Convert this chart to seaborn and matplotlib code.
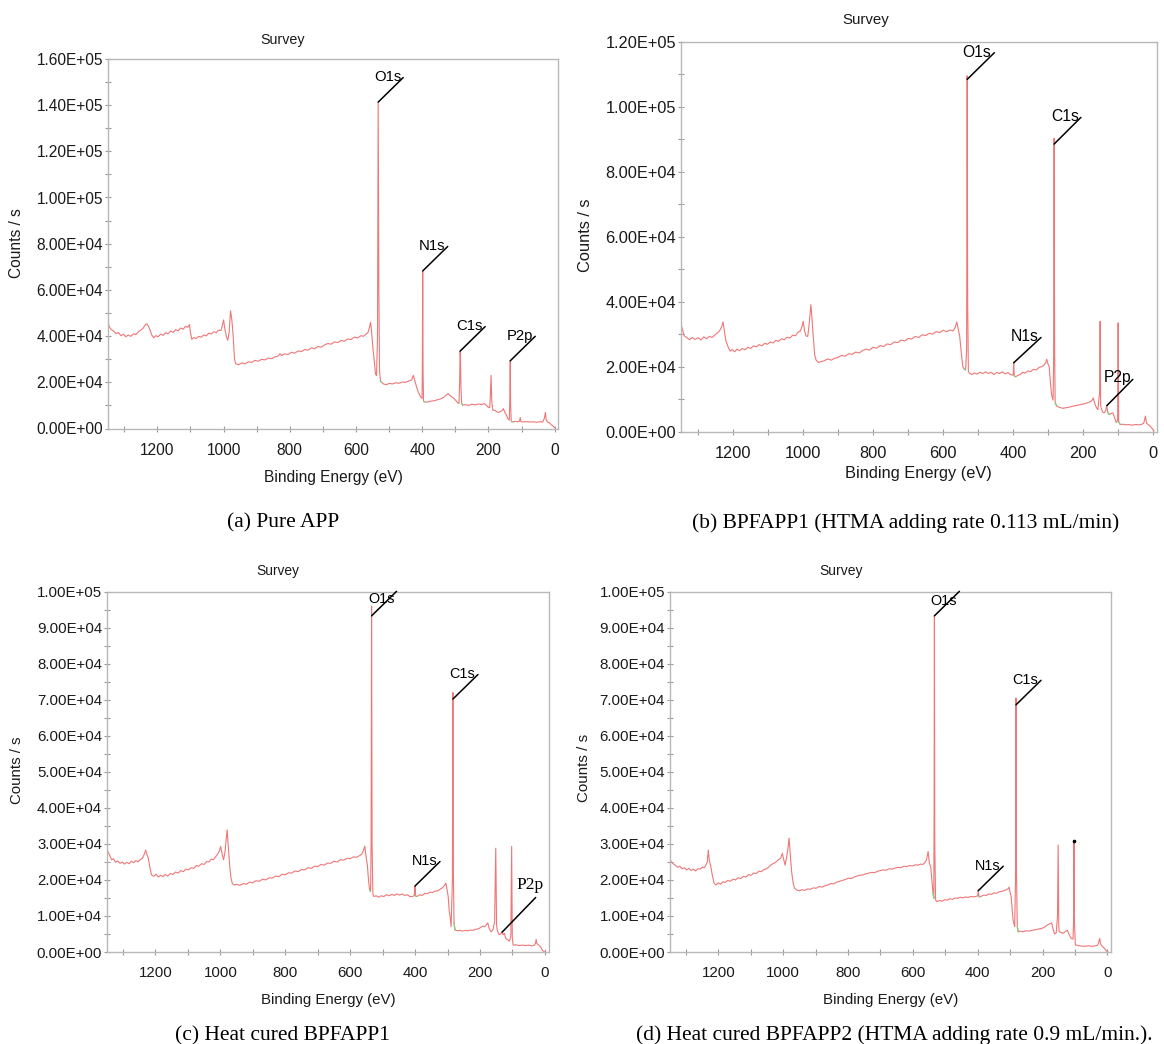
import matplotlib
matplotlib.use("Agg")
import matplotlib.pyplot as plt
import pandas as pd
import seaborn as sns
from matplotlib.ticker import MultipleLocator, FuncFormatter

# XPS survey spectra: (binding energy eV, intensity in 10^3 counts/s)
survey_a = [
    (1350, 46.5), (1345, 44.0), (1340, 43.0), (1332, 42.2), (1325, 41.0), (1318, 41.6), (1310, 40.2),
    (1302, 40.8), (1295, 39.7), (1288, 40.5), (1280, 39.9), (1272, 41.0), (1265, 40.6), (1258, 41.8),
    (1250, 42.6), (1243, 43.4), (1237, 44.8), (1232, 45.4), (1227, 44.3), (1222, 42.6), (1217, 40.5),
    (1211, 39.3), (1205, 40.2), (1198, 39.7), (1190, 40.9), (1183, 40.3), (1175, 41.5), (1168, 41.0),
    (1160, 42.2), (1152, 41.6), (1145, 42.8), (1137, 42.3), (1130, 43.5), (1122, 43.0), (1115, 44.2),
    (1108, 43.8), (1103, 45.0), (1100, 41.5), (1096, 38.6), (1090, 39.4), (1083, 38.9), (1075, 39.9),
    (1068, 39.5), (1060, 40.5), (1052, 40.1), (1045, 41.3), (1037, 40.9), (1030, 41.9), (1022, 41.5),
    (1015, 42.6), (1008, 42.4), (1003, 45.0), (1000, 47.0), (996, 43.0), (991, 39.5), (987, 38.2),
    (983, 42.0), (979, 51.0), (975, 47.0), (971, 40.0), (967, 30.0), (963, 28.0), (955, 27.6),
    (945, 28.4), (935, 28.0), (925, 28.9), (915, 28.6), (905, 29.5), (895, 29.1), (885, 30.0),
    (875, 29.7), (865, 30.5), (855, 30.2), (845, 31.0), (835, 31.4), (830, 32.4), (825, 31.6),
    (815, 32.3), (805, 32.0), (795, 33.0), (785, 32.6), (775, 33.6), (765, 33.3), (755, 34.2),
    (745, 33.9), (735, 34.9), (725, 34.5), (715, 35.5), (705, 35.2), (695, 36.2), (685, 36.8),
    (675, 36.5), (665, 37.5), (655, 37.2), (645, 38.1), (635, 37.8), (625, 38.8), (615, 38.5),
    (605, 39.6), (595, 39.2), (585, 40.2), (578, 39.9), (570, 40.8), (564, 41.5), (559, 44.0),
    (556, 46.0), (553, 42.0), (549, 35.0), (545, 29.0), (541, 23.5), (538, 23.0), (535, 40.0),
    (533, 141.3), (531, 60.0), (529, 25.0), (526, 20.5), (522, 19.9), (516, 19.2), (508, 19.0),
    (500, 19.5), (490, 19.3), (480, 19.8), (470, 19.6), (460, 20.1), (450, 20.0), (440, 20.6),
    (432, 21.0), (427, 23.0), (422, 20.5), (417, 18.0), (412, 15.8), (405, 13.7), (400.5, 13.0),
    (399.5, 30.0), (398.5, 68.2), (397.5, 25.0), (396, 11.8), (392, 11.5), (385, 11.4), (375, 11.8),
    (365, 12.0), (355, 12.4), (345, 12.8), (336, 13.4), (328, 14.4), (321.6, 15.1), (316, 14.3),
    (310, 13.6), (304, 13.0), (298, 12.0), (293, 11.2), (289, 10.8), (287, 20.0), (285.5, 33.5),
    (284.5, 31.0), (283, 18.0), (281, 11.0), (278, 10.1), (270, 10.3), (260, 10.0), (250, 10.5),
    (240, 10.2), (230, 10.6), (220, 10.4), (212, 10.8), (206, 10.0), (200, 9.2), (196, 9.0),
    (194, 15.0), (192, 23.0), (190, 12.0), (187, 8.0), (180, 7.8), (172, 7.0), (165, 7.2),
    (160, 7.6), (155, 8.6), (151, 7.2), (146, 5.8), (141, 4.2), (137, 3.6), (135.5, 12.0),
    (134.2, 29.3), (133, 10.0), (131, 3.0), (125, 2.9), (118, 3.1), (112, 2.9), (106, 3.2),
    (104, 4.8), (102, 3.0), (95, 2.8), (85, 3.0), (75, 2.8), (65, 2.9), (55, 2.7), (45, 2.9),
    (36, 2.8), (31, 4.5), (28, 7.0), (26, 4.0), (22, 2.8), (16, 2.5), (10, 1.6), (6, 1.2),
    (2, 0.6), (-2, 0.2),
]

survey_b = [
    (1349, 33.0), (1345, 31.5), (1340, 29.5), (1333, 29.0), (1325, 28.3), (1317, 29.0), (1309, 28.4),
    (1300, 28.9), (1292, 28.2), (1284, 29.2), (1276, 28.6), (1268, 29.3), (1260, 29.0), (1252, 29.8),
    (1245, 30.4), (1238, 31.2), (1233, 32.3), (1229, 33.8), (1225, 31.0), (1221, 28.0), (1215, 26.2),
    (1209, 24.8), (1203, 25.3), (1196, 24.6), (1189, 25.4), (1182, 24.9), (1174, 25.6), (1166, 25.2),
    (1158, 26.0), (1150, 25.6), (1142, 26.4), (1134, 26.1), (1126, 26.8), (1118, 26.4), (1110, 27.2),
    (1102, 26.9), (1094, 27.6), (1086, 27.3), (1078, 28.1), (1070, 27.8), (1062, 28.6), (1054, 28.3),
    (1046, 29.1), (1038, 28.8), (1030, 29.7), (1022, 29.5), (1015, 30.6), (1008, 31.0), (1003, 32.5),
    (1000, 34.0), (996, 31.0), (992, 29.5), (987, 29.3), (983, 33.0), (978, 39.1), (975, 35.0),
    (971, 28.9), (967, 23.5), (963, 22.0), (956, 21.3), (949, 21.6), (940, 21.8), (930, 22.4),
    (920, 22.0), (910, 22.6), (900, 22.9), (890, 23.5), (880, 23.2), (870, 24.0), (860, 23.8),
    (850, 24.5), (840, 24.2), (830, 25.0), (820, 25.4), (810, 25.1), (800, 26.0), (790, 25.7),
    (780, 26.5), (770, 26.2), (760, 27.0), (750, 26.8), (740, 27.6), (730, 27.4), (720, 28.2),
    (710, 27.9), (700, 28.7), (690, 28.5), (680, 29.3), (670, 29.0), (660, 29.8), (650, 29.6),
    (640, 30.3), (630, 30.0), (620, 30.8), (610, 30.5), (600, 31.2), (590, 30.8), (580, 31.3),
    (572, 31.0), (566, 32.0), (561, 33.8), (557, 31.5), (553, 29.6), (548, 24.0), (544, 20.0),
    (540, 19.3), (536, 19.0), (533, 25.0), (531.5, 109.5), (530, 40.0), (528, 18.5), (524, 17.9),
    (518, 17.6), (511, 18.1), (503, 17.7), (495, 18.3), (487, 17.9), (479, 18.4), (471, 17.9),
    (463, 18.3), (455, 17.6), (447, 18.2), (439, 17.9), (431, 18.4), (423, 17.8), (415, 18.2),
    (408, 17.6), (401, 17.4), (399.5, 18.0), (398.5, 21.2), (397, 17.2), (393, 16.9), (387, 17.3),
    (380, 17.6), (373, 18.3), (366, 18.0), (358, 18.7), (350, 18.5), (342, 19.2), (334, 19.0),
    (326, 19.8), (318, 20.0), (312, 20.5), (307, 21.2), (304, 22.3), (301, 21.0), (297, 20.0),
    (293, 14.5), (290, 11.3), (286, 9.7), (284.5, 20.0), (283, 90.3), (281.5, 25.0), (280, 9.0),
    (276, 7.9), (268, 7.5), (258, 7.2), (248, 7.4), (238, 7.6), (228, 7.9), (218, 8.1), (210, 8.3),
    (200, 8.5), (190, 8.8), (180, 9.2), (175, 9.6), (171, 10.4), (166, 8.4), (162, 7.4), (158, 6.8),
    (153, 12.0), (151.5, 34.0), (150, 8.0), (147, 6.8), (144, 6.0), (140, 5.8), (136, 6.4),
    (132.5, 8.0), (130, 6.0), (126, 5.3), (120, 5.6), (115, 5.8), (110, 4.2), (105, 2.8),
    (101.5, 3.5), (100, 33.5), (98.5, 3.0), (94, 2.2), (86, 2.3), (78, 2.1), (70, 2.2), (60, 2.0),
    (50, 2.2), (40, 2.1), (32, 2.3), (27, 2.6), (22, 4.8), (19, 2.6), (14, 2.2), (10, 1.8),
    (6, 1.4), (3, 1.0), (-2, 0.3),
]

survey_c = [
    (1349, 28.5), (1345, 27.6), (1341, 26.9), (1335, 25.6), (1329, 25.9), (1323, 24.9), (1316, 25.3),
    (1309, 24.6), (1302, 25.0), (1295, 24.4), (1288, 24.9), (1281, 24.5), (1274, 25.2), (1267, 24.8),
    (1260, 25.4), (1253, 25.0), (1246, 25.7), (1240, 26.0), (1236, 26.8), (1233, 27.4), (1230, 28.3),
    (1226, 27.0), (1222, 26.1), (1217, 23.5), (1212, 21.4), (1205, 21.0), (1198, 21.6), (1191, 20.8),
    (1184, 21.3), (1177, 20.9), (1170, 21.5), (1162, 21.1), (1154, 21.8), (1146, 21.5), (1138, 22.2),
    (1130, 21.9), (1122, 22.6), (1114, 22.3), (1106, 23.0), (1098, 22.8), (1090, 23.4), (1082, 23.2),
    (1074, 24.0), (1066, 23.8), (1058, 24.5), (1050, 24.3), (1042, 25.1), (1035, 25.0), (1028, 25.8),
    (1021, 25.6), (1014, 26.5), (1008, 27.2), (1003, 28.0), (999, 29.3), (994, 27.0), (990, 25.6),
    (986, 27.5), (982, 31.0), (979, 33.9), (975, 29.0), (971, 23.7), (967, 20.5), (963, 19.0),
    (957, 18.6), (950, 18.8), (940, 18.5), (930, 19.0), (920, 18.8), (910, 19.4), (900, 19.2),
    (890, 19.8), (880, 19.6), (870, 20.2), (860, 20.0), (850, 20.6), (840, 20.5), (830, 21.1),
    (820, 20.9), (810, 21.6), (800, 21.4), (790, 22.0), (780, 21.9), (770, 22.5), (760, 22.3),
    (750, 22.9), (740, 22.8), (730, 23.4), (720, 23.2), (710, 23.8), (700, 23.7), (690, 24.3),
    (680, 24.1), (670, 24.7), (660, 24.6), (650, 25.2), (640, 25.0), (630, 25.6), (620, 25.5),
    (610, 26.0), (600, 25.9), (590, 26.4), (580, 26.3), (570, 26.8), (564, 27.2), (559, 28.2),
    (555, 29.4), (551, 26.5), (547, 24.1), (543, 19.5), (540, 17.2), (537, 16.8), (535.5, 30.0),
    (534, 96.0), (532.5, 30.0), (530, 16.0), (527, 15.4), (520, 15.6), (512, 15.2), (504, 15.6),
    (496, 15.4), (488, 15.9), (480, 15.6), (472, 16.0), (464, 15.7), (456, 16.1), (448, 15.8),
    (440, 16.1), (432, 15.7), (424, 15.9), (416, 15.4), (409, 15.4), (403, 15.6), (401.5, 16.5),
    (400.3, 18.3), (399, 15.6), (394, 15.4), (386, 15.9), (378, 15.7), (370, 16.3), (362, 16.2),
    (354, 16.6), (346, 16.5), (338, 16.9), (330, 17.0), (323, 17.4), (316, 17.8), (310, 18.4),
    (305, 19.1), (302, 17.5), (298, 15.4), (295, 11.5), (292, 9.8), (289, 7.0), (285, 20.0),
    (283.5, 72.0), (282, 22.0), (280, 8.0), (277, 6.1), (270, 5.9), (262, 6.0), (254, 5.8),
    (246, 6.0), (238, 5.9), (230, 6.1), (222, 6.0), (214, 6.3), (206, 6.4), (198, 6.8), (192, 7.2),
    (186, 7.0), (180, 7.6), (176, 8.1), (172, 6.6), (166, 5.6), (160, 6.2), (155, 8.5),
    (151.5, 28.8), (149, 7.5), (147, 6.1), (143, 5.0), (139, 4.8), (135, 5.2), (132, 5.5),
    (129, 4.8), (125, 5.2), (121, 3.8), (115, 3.4), (109, 3.0), (105, 4.5), (102.5, 29.3),
    (100.5, 4.0), (98, 1.9), (90, 2.0), (80, 1.8), (70, 1.9), (60, 1.8), (50, 1.9), (40, 1.7),
    (32, 1.9), (29, 2.5), (27, 3.5), (25, 2.4), (19, 1.9), (13, 1.4), (8, 0.5), (3, 0.1), (-2, 0.0),
]

survey_d = [
    (1349, 25.8), (1345, 25.0), (1340, 24.6), (1333, 24.1), (1326, 23.5), (1319, 23.8), (1312, 23.1),
    (1305, 23.4), (1298, 22.8), (1291, 23.2), (1284, 22.6), (1277, 23.0), (1270, 22.5), (1263, 23.1),
    (1256, 23.0), (1249, 23.6), (1243, 23.4), (1238, 24.2), (1234, 25.0), (1231, 28.3), (1228, 25.5),
    (1224, 24.1), (1219, 21.5), (1213, 19.1), (1207, 18.6), (1200, 19.2), (1193, 18.8), (1186, 19.5),
    (1179, 19.3), (1171, 19.9), (1163, 19.6), (1155, 20.2), (1147, 20.0), (1139, 20.6), (1131, 20.4),
    (1123, 21.0), (1115, 20.8), (1107, 21.5), (1099, 21.3), (1091, 21.9), (1083, 21.8), (1075, 22.4),
    (1067, 22.3), (1059, 22.9), (1051, 23.1), (1043, 23.7), (1036, 24.3), (1029, 24.6), (1022, 25.0),
    (1015, 25.6), (1008, 26.0), (1002.5, 27.4), (998, 25.5), (994, 24.1), (989, 26.5), (985, 29.0),
    (982, 31.6), (978, 27.0), (974, 22.3), (969, 19.0), (965, 17.7), (958, 17.2), (950, 17.0),
    (942, 17.3), (934, 17.1), (925, 17.5), (916, 17.4), (907, 17.8), (898, 17.7), (889, 18.2),
    (880, 18.0), (871, 18.4), (862, 18.6), (853, 19.0), (844, 18.9), (835, 19.4), (826, 19.6),
    (817, 19.9), (808, 20.1), (799, 20.5), (790, 20.4), (781, 20.8), (772, 21.1), (763, 21.3),
    (754, 21.4), (745, 21.7), (736, 21.9), (727, 22.1), (718, 22.0), (709, 22.4), (700, 22.6),
    (691, 22.8), (682, 22.7), (673, 23.1), (664, 23.0), (655, 23.3), (646, 23.5), (637, 23.4),
    (628, 23.8), (619, 23.7), (610, 24.0), (601, 23.9), (592, 24.2), (584, 24.1), (576, 24.4),
    (569, 24.3), (563, 24.8), (558, 25.6), (553, 27.9), (549, 24.5), (545, 23.7), (541, 19.5),
    (538, 16.5), (535.5, 14.9), (534.5, 40.0), (533.6, 93.5), (532.5, 30.0), (530, 14.5),
    (526, 14.0), (518, 14.3), (510, 14.1), (502, 14.5), (494, 14.4), (486, 14.8), (478, 14.6),
    (470, 15.0), (462, 14.9), (454, 15.2), (446, 15.0), (438, 15.3), (430, 15.1), (422, 15.4),
    (414, 15.3), (406, 15.4), (400, 15.6), (398.5, 17.0), (396, 15.3), (390, 15.4), (382, 15.8),
    (374, 15.7), (366, 16.1), (358, 16.0), (350, 16.4), (342, 16.3), (334, 16.7), (326, 16.8),
    (318, 17.1), (311, 17.3), (306, 17.6), (303, 18.0), (300, 16.5), (297, 15.4), (294, 12.0),
    (291, 8.9), (286, 7.0), (283.5, 20.0), (282, 70.5), (280.5, 22.0), (278, 7.0), (275, 5.6),
    (268, 5.8), (260, 5.6), (252, 5.9), (244, 5.8), (236, 5.9), (228, 6.1), (220, 6.2), (212, 6.4),
    (204, 6.5), (196, 6.8), (190, 7.2), (183, 7.6), (176, 7.9), (172, 8.1), (168, 6.5), (163, 5.0),
    (158, 5.3), (154, 10.0), (152, 29.7), (150, 7.0), (148.6, 5.6), (143, 5.4), (137, 5.2),
    (130, 5.6), (124, 6.1), (119, 5.0), (112, 3.8), (106, 3.6), (104, 10.0), (103, 30.9),
    (101.5, 8.0), (99, 1.9), (95, 1.9), (85, 1.7), (75, 1.6), (67, 1.6), (58, 1.7), (48, 1.6),
    (38, 1.7), (30, 1.9), (26, 3.0), (24, 3.8), (21, 2.2), (16, 1.6), (10, 1.1), (5, 0.5),
    (0, 0.1), (-2, 0.0),
]

# background-fit windows drawn in green (high, low binding energy)
bg_windows_a = [(528, 521), (397, 391), (281.5, 277), (132.9, 124)]
bg_windows_b = [(540, 535.5), (397.5, 392), (281, 275), (131, 125), (99, 93)]
bg_windows_c = [(541, 536.5), (399.5, 393), (280.5, 276)]
bg_windows_d = [(539, 535), (397, 389), (279, 274)]

# peak labels: name, energy, intensity (10^3 counts/s) where the leader line starts
peaks_a = [("O1s", 533, 141.3), ("N1s", 398.5, 68.2), ("C1s", 285.5, 33.5), ("P2p", 134.2, 29.3)]
peaks_b = [("O1s", 531.5, 108.4), ("C1s", 283, 88.5), ("N1s", 398.5, 21.2), ("P2p", 132.5, 8.0)]
peaks_c = [("O1s", 534, 93.3), ("C1s", 283.5, 70.2), ("N1s", 400.3, 18.3), ("P2p", 132, 5.5)]
peaks_d = [("O1s", 533.6, 93.3), ("C1s", 282, 68.6), ("N1s", 398.5, 17.0)]

captions = [
    "(a) Pure APP",
    "(b) BPFAPP1 (HTMA adding rate 0.113 mL/min)",
    "(c) Heat cured BPFAPP1",
    "(d) Heat cured BPFAPP2 (HTMA adding rate 0.9 mL/min.).",
]

W, H = 1164, 1044
RED = "#ef7777"
GREEN = "#7ed07e"
FRAME = "#b8b8b8"
TICK = "#9a9a9a"

sns.set_theme(style="white")
plt.rcParams["font.family"] = ["Liberation Sans", "DejaVu Sans"]
SERIF = ["Liberation Serif", "DejaVu Serif"]

fig = plt.figure(figsize=(W / 100, H / 100), dpi=100)


def fx(x):
    return x / W


def fy(y):
    return 1 - y / H


panels = [
    dict(box=(107.7, 58.9, 558.3, 428.5), data=survey_a, bg=bg_windows_a, peaks=peaks_a,
         ymax=160000, major=20000, minor=10000, fs=1.0,
         title=(283, 39.7), ylab=(16.6, 243.3), xlab=(333.4, 477.3),
         cap=(283, 527, "center"),
         lines={}, texts={}),
    dict(box=(680.7, 41.7, 1157, 431.7), data=survey_b, bg=bg_windows_b, peaks=peaks_b,
         ymax=120000, major=20000, minor=10000, fs=1.05,
         title=(866, 20), ylab=(585, 235), xlab=(918.5, 473.3),
         cap=(691.8, 528, "left"),
         lines={"O1s": (27.2, 26.7), "C1s": (26.8, 26.7), "N1s": (27.3, 25.3), "P2p": (26, 26.3)},
         texts={"O1s": (-4.5, 22.6), "C1s": (-3, 23.3), "N1s": (-2.7, 22), "P2p": (-3.3, 23.7)}),
    dict(box=(106.7, 591.7, 548.5, 952), data=survey_c, bg=bg_windows_c, peaks=peaks_c,
         ymax=100000, major=10000, minor=5000, fs=0.965,
         title=(278.2, 571), ylab=(17, 770.7), xlab=(327.9, 1000),
         cap=(282, 1040, "center"),
         lines={"P2p": (33.6, 34.7)},
         texts={"O1s": (-3.7, 12.7), "P2p": (14, 43)}),
    dict(box=(669.7, 591.7, 1111, 952), data=survey_d, bg=bg_windows_d, peaks=peaks_d,
         ymax=100000, major=10000, minor=5000, fs=0.97,
         title=(841, 571), ylab=(584, 768), xlab=(890.5, 1000),
         cap=(636.3, 1040, "left"),
         lines={}, texts={"O1s": (-4.5, 11)}),
]

sci_fmt = FuncFormatter(lambda v, pos: f"{v:.2E}")

for i, p in enumerate(panels):
    x0, y0, x1, y1 = p["box"]
    ax = fig.add_axes([fx(x0), fy(y1), (x1 - x0) / W, (y1 - y0) / H])
    fs = p["fs"]

    df = pd.DataFrame(p["data"], columns=["energy", "kcounts"])
    df["counts"] = df["kcounts"] * 1000
    sns.lineplot(data=df, x="energy", y="counts", ax=ax, color=RED, linewidth=0.8,
                 estimator=None, sort=False, legend=False)
    for hi, lo in p["bg"]:
        seg = df[(df["energy"] <= hi) & (df["energy"] >= lo)]
        sns.lineplot(data=seg, x="energy", y="counts", ax=ax, color=GREEN, linewidth=0.9,
                     estimator=None, sort=False, legend=False)

    ax.set_xlim(1350, -11)
    ax.set_ylim(0, p["ymax"])
    ax.set_xlabel("")
    ax.set_ylabel("")

    ax.xaxis.set_major_locator(MultipleLocator(200))
    ax.xaxis.set_minor_locator(MultipleLocator(100))
    ax.yaxis.set_major_locator(MultipleLocator(p["major"]))
    ax.yaxis.set_minor_locator(MultipleLocator(p["minor"]))
    ax.yaxis.set_major_formatter(sci_fmt)
    ax.tick_params(which="both", direction="inout", length=4.3, width=0.8, color=TICK,
                   bottom=True, left=True, top=False, right=False)
    ax.tick_params(axis="both", which="major", labelsize=11.2 * fs, labelcolor="#1a1a1a")
    ax.tick_params(axis="x", which="major", pad=8.0)
    ax.tick_params(axis="y", which="major", pad=1.2)
    for sp in ax.spines.values():
        sp.set_color(FRAME)
        sp.set_linewidth(1.0)
        sp.set_visible(True)

    # peak labels with leader lines
    for name, e, kc in p["peaks"]:
        c = kc * 1000
        line = p["lines"].get(name, (25, 24.5))
        txt = p["texts"].get(name, (-3.5, 21))
        ax.annotate("", xy=(e, c), xytext=line, textcoords="offset pixels",
                    arrowprops=dict(arrowstyle="-", color="black", lw=1.1,
                                    shrinkA=0, shrinkB=0))
        if i == 2 and name == "P2p":
            ax.annotate(name, xy=(e, c), xytext=txt, textcoords="offset pixels",
                        ha="left", va="baseline", fontsize=12.5, family=SERIF, color="black")
        else:
            ax.annotate(name, xy=(e, c), xytext=txt, textcoords="offset pixels",
                        ha="left", va="baseline", fontsize=10.7 * fs, color="black")

    if i == 3:
        ax.plot([103], [30900], marker="o", markersize=1.6, color="black", linestyle="none")

    fig.text(fx(p["title"][0]), fy(p["title"][1]), "Survey", ha="center", va="center",
             fontsize=10.3 * fs, color="#1a1a1a")
    fig.text(fx(p["ylab"][0]), fy(p["ylab"][1]), "Counts / s", ha="center", va="center",
             rotation=90, fontsize=11.2 * fs, color="#1a1a1a")
    fig.text(fx(p["xlab"][0]), fy(p["xlab"][1]), "Binding Energy (eV)", ha="center",
             va="center", fontsize=11.2 * fs, color="#1a1a1a")
    cx, cy, cha = p["cap"]
    fig.text(fx(cx), fy(cy), captions[i], ha=cha, va="baseline", fontsize=15.5,
             family=SERIF, color="black")

fig.savefig("out.png", dpi=100, facecolor="white")
